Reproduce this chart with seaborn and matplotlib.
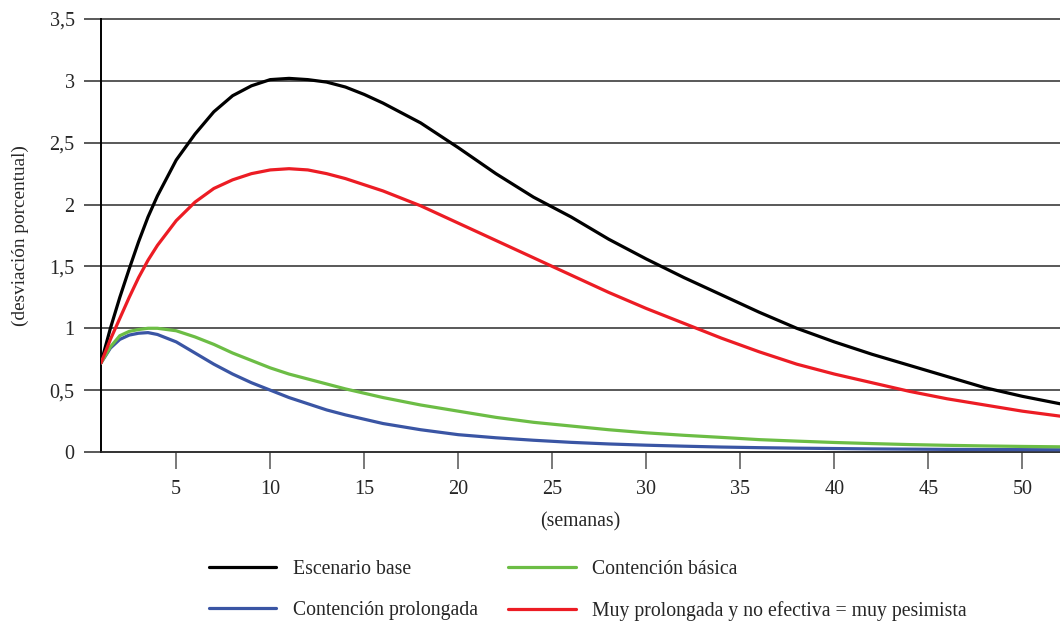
import pandas as pd
import matplotlib
matplotlib.use("Agg")
import matplotlib.pyplot as plt
import seaborn as sns

# weeks and scenario values
semanas = [1, 1.5, 2, 2.5, 3, 3.5, 4, 5, 6, 7, 8, 9, 10, 11, 12, 13, 14, 15, 16,
           18, 20, 22, 24, 26, 28, 30, 32, 34, 36, 38, 40, 42, 44, 46, 48, 50, 52]

escenario_base = [0.72, 1.00, 1.25, 1.48, 1.70, 1.90, 2.07, 2.36, 2.57, 2.75, 2.88,
                  2.96, 3.01, 3.02, 3.01, 2.99, 2.95, 2.89, 2.82,
                  2.66, 2.46, 2.25, 2.06, 1.90, 1.72, 1.56, 1.41, 1.27, 1.13,
                  1.00, 0.89, 0.79, 0.70, 0.61, 0.52, 0.45, 0.39]

contencion_prolongada = [0.72, 0.84, 0.91, 0.945, 0.96, 0.965, 0.95, 0.89, 0.80, 0.71,
                         0.63, 0.56, 0.50, 0.44, 0.39, 0.34, 0.30, 0.265, 0.23,
                         0.18, 0.14, 0.115, 0.095, 0.078, 0.065, 0.055, 0.047, 0.040,
                         0.035, 0.031, 0.028, 0.025, 0.023, 0.021, 0.020, 0.019, 0.018]

contencion_basica = [0.72, 0.85, 0.94, 0.975, 0.99, 1.00, 1.00, 0.98, 0.93, 0.87,
                     0.80, 0.74, 0.68, 0.63, 0.59, 0.55, 0.51, 0.475, 0.44,
                     0.38, 0.33, 0.28, 0.24, 0.21, 0.18, 0.155, 0.135, 0.118,
                     0.100, 0.088, 0.077, 0.068, 0.060, 0.054, 0.049, 0.045, 0.042]

muy_pesimista = [0.72, 0.91, 1.08, 1.25, 1.41, 1.55, 1.67, 1.87, 2.02, 2.13, 2.20,
                 2.25, 2.28, 2.29, 2.28, 2.25, 2.21, 2.16, 2.11,
                 1.99, 1.85, 1.71, 1.57, 1.43, 1.29, 1.16, 1.04, 0.92, 0.81,
                 0.71, 0.63, 0.56, 0.49, 0.43, 0.38, 0.33, 0.29]

nombres = ["Escenario base", "Contención prolongada", "Contención básica",
           "Muy prolongada y no efectiva = muy pesimista"]
colores = ["#000000", "#3a55a4", "#6cbd45", "#ec1c24"]

y_ticks = [0, 0.5, 1, 1.5, 2, 2.5, 3, 3.5]
y_labels = ["0", "0,5", "1", "1,5", "2", "2,5", "3", "3,5"]
x_ticks = [5, 10, 15, 20, 25, 30, 35, 40, 45, 50]

# long format for seaborn
series = [escenario_base, contencion_prolongada, contencion_basica, muy_pesimista]
frames = []
for nombre, valores in zip(nombres, series):
    frames.append(pd.DataFrame({"semana": semanas, "valor": valores, "escenario": nombre}))
df = pd.concat(frames, ignore_index=True)

sns.set_style("white")
plt.rcParams["font.family"] = ["Liberation Serif", "DejaVu Serif"]

fig = plt.figure(figsize=(10.6, 6.24), dpi=100)
ax = fig.add_axes([101 / 1060, 1 - 452 / 624, 959 / 1060, 433 / 624])

sns.lineplot(data=df, x="semana", y="valor", hue="escenario", hue_order=nombres,
             palette=colores, linewidth=2.3, ax=ax, zorder=3)

ax.set_xlim(1, 52)
ax.set_ylim(0, 3.5)
ax.set_yticks(y_ticks)
ax.set_yticklabels(y_labels, fontsize=14.5)
ax.set_xticks(x_ticks)
ax.set_xticklabels([str(t) for t in x_ticks], fontsize=14.5)

ax.grid(axis="y", color="#2b2b2b", linewidth=1.1, zorder=1)
ax.grid(axis="x", visible=False)
for gl in ax.get_ygridlines():
    gl.set_clip_on(False)

for s in ["top", "right"]:
    ax.spines[s].set_visible(False)
ax.spines["left"].set_color("black")
ax.spines["left"].set_linewidth(1.4)
ax.spines["bottom"].set_color("#2b2b2b")
ax.spines["bottom"].set_linewidth(1.1)

ax.tick_params(axis="y", direction="out", length=12, width=1.1, color="#2b2b2b", pad=7, left=True)
ax.tick_params(axis="x", direction="out", length=12.5, width=1.1, color="#555555", pad=8, bottom=True)

ax.set_xlabel("(semanas)", fontsize=14.2, labelpad=9)
ax.set_ylabel("(desviación porcentual)", fontsize=13.9, labelpad=15)

sns.move_legend(ax, "upper center", bbox_to_anchor=(588 / 1060, 82 / 624),
                bbox_transform=fig.transFigure, ncol=2, frameon=False, title=None,
                fontsize=14.2, handlelength=3.4, handletextpad=0.86, columnspacing=1.55,
                labelspacing=1.12)

fig.savefig("out.png", dpi=100)
